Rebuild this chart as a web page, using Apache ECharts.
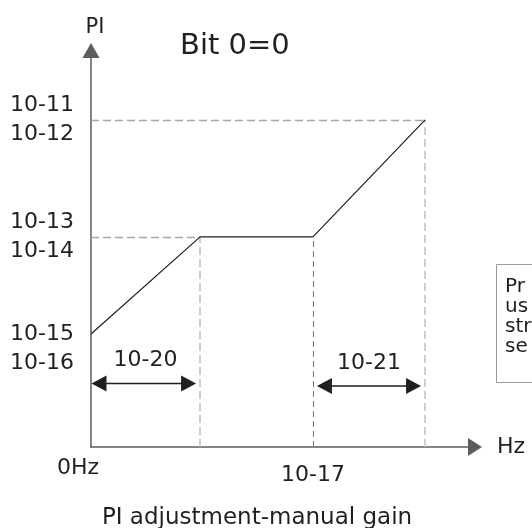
<!DOCTYPE html>
<html>
<head>
<meta charset="utf-8">
<script src="https://cdn.jsdelivr.net/npm/echarts@6/dist/echarts.min.js"></script>
<style>
  html, body { margin: 0; padding: 0; background: #ffffff; }
  #chart { width: 532px; height: 528px; }
</style>
</head>
<body>
<div id="chart"></div>
<script>
// ---- data (in relative axis units 0..100) ----
const curveX = [0, 28.4, 57.8, 87];          // 0Hz, end of 10-20, 10-17, end of 10-21
const curveY = [28.5, 53, 53, 82.5];         // 10-15/16, 10-13/14, 10-13/14, 10-11/12
const yTickValues = [28.5, 53, 82.5];
const yTickLabels = [['10-15', '10-16'], ['10-13', '10-14'], ['10-11', '10-12']];
const xTickValues = [0, 57.8];
const xTickLabels = ['0Hz', '10-17'];
const spanStart = [0, 57.8];
const spanEnd = [28.4, 87];
const spanY = [16, 15.4];
const spanLabels = ['10-20', '10-21'];
const noteLines = ['Pr', 'us', 'str', 'se'];

const FONT = 'DejaVu Sans';
const TXT = '#231f20';
const AXIS = '#5c5c5c';

const chart = echarts.init(document.getElementById('chart'), null, { renderer: 'canvas' });

const guideStyles = [
  { color: '#c4c4c4', width: 1.6, type: [8, 4] },
  { color: '#7a7a7a', width: 1, type: [6, 4] },
  { color: '#c4c4c4', width: 1.6, type: [8, 4] }
];
const guides = [];
for (let i = 1; i < curveX.length; i++) {
  guides.push([
    { coord: [curveX[i], 0], lineStyle: guideStyles[i - 1] },
    { coord: [curveX[i], curveY[i]] }
  ]);
}
[1, 3].forEach(function (i) {
  guides.push([
    { coord: [0, curveY[i]], lineStyle: { color: '#a8a8a8', width: 1.4, type: [8, 4] } },
    { coord: [curveX[i], curveY[i]] }
  ]);
});

const spanData = spanStart.map(function (s, i) { return [s, spanEnd[i], spanY[i], spanLabels[i]]; });

const option = {
  animation: false,
  title: {
    text: 'Bit 0=0',
    left: 180,
    top: 32,
    padding: 0,
    textStyle: { fontFamily: FONT, fontSize: 29, fontWeight: 'normal', color: TXT }
  },
  grid: { left: 91, right: 57, top: 50.5, bottom: 81, containLabel: false, outerBoundsMode: 'none' },
  xAxis: {
    type: 'value', min: 0, max: 100,
    name: 'Hz', nameLocation: 'end', nameGap: 22,
    nameTextStyle: { fontFamily: FONT, fontSize: 22, color: TXT, align: 'left', verticalAlign: 'middle', padding: [6, 0, 0, 0] },
    axisLine: { show: true, symbol: ['none', 'triangle'], symbolSize: [18, 14], lineStyle: { color: AXIS, width: 1.5 } },
    axisTick: { show: false },
    splitLine: { show: false },
    axisLabel: {
      show: true,
      customValues: xTickValues,
      margin: 10,
      verticalAlign: 'top',
      formatter: function (v) {
        const i = xTickValues.indexOf(v);
        return i === 0 ? '{z|' + xTickLabels[0] + '}' : '{t|' + xTickLabels[i] + '}';
      },
      rich: {
        z: { fontFamily: FONT, fontSize: 22, color: TXT, padding: [0, 26, 0, 0] },
        t: { fontFamily: FONT, fontSize: 22, color: TXT, padding: [7, 0, 0, 0] }
      }
    }
  },
  yAxis: {
    type: 'value', min: 0, max: 100,
    name: 'PI', nameLocation: 'end', nameGap: 23,
    nameTextStyle: { fontFamily: FONT, fontSize: 21, color: TXT, verticalAlign: 'middle', padding: [0, 0, 0, 8] },
    axisLine: { show: true, symbol: ['none', 'triangle'], symbolSize: [17, 15], lineStyle: { color: AXIS, width: 1.5 } },
    axisTick: { show: false },
    splitLine: { show: false },
    axisLabel: {
      show: true,
      customValues: yTickValues,
      margin: 17,
      align: 'right',
      fontFamily: FONT, fontSize: 22, color: TXT, lineHeight: 29,
      padding: [8, 0, 0, 0],
      formatter: function (v) {
        const i = yTickValues.indexOf(v);
        return (i === 0 ? '\n' : '') + yTickLabels[i][0] + '\n' + yTickLabels[i][1];
      }
    }
  },
  series: [
    {
      type: 'line',
      data: curveX.map(function (x, i) { return [x, curveY[i]]; }),
      symbol: 'none',
      lineStyle: { color: '#1e1e1e', width: 1.2 },
      z: 3,
      markLine: {
        silent: true,
        symbol: ['none', 'none'],
        label: { show: false },
        emphasis: { disabled: true },
        data: guides,
        z: 1
      }
    },
    {
      type: 'custom',
      data: spanData,
      encode: { x: [0, 1], y: 2 },
      z: 4,
      silent: true,
      renderItem: function (params, api) {
        const p0 = api.coord([api.value(0), api.value(2)]);
        const p1 = api.coord([api.value(1), api.value(2)]);
        const inset = params.dataIndex === 0 ? 0.5 : 4;
        const l = p0[0] + inset, r = p1[0] - 4, y = p0[1];
        const head = 15, hw = 8;
        return {
          type: 'group',
          children: [
            { type: 'line', shape: { x1: l + head - 1, y1: y, x2: r - head + 1, y2: y }, style: { stroke: '#1e1e1e', lineWidth: 1.6 } },
            { type: 'polygon', shape: { points: [[l, y], [l + head, y - hw], [l + head, y + hw]] }, style: { fill: '#231f20' } },
            { type: 'polygon', shape: { points: [[r, y], [r - head, y - hw], [r - head, y + hw]] }, style: { fill: '#231f20' } },
            { type: 'text', style: { text: api.value(3), x: (p0[0] + p1[0]) / 2, y: y - 23, align: 'center', verticalAlign: 'middle', font: '22px "' + FONT + '"', fill: TXT } }
          ]
        };
      }
    }
  ],
  graphic: [
    {
      type: 'text', x: 257, y: 507,
      style: { text: 'PI adjustment-manual gain', align: 'center', verticalAlign: 'top', font: '23px "' + FONT + '"', fill: TXT }
    },
    {
      type: 'rect', shape: { x: 496.5, y: 264.5, width: 60, height: 118 },
      style: { fill: 'none', stroke: '#9a9a9a', lineWidth: 1 }
    },
    {
      type: 'text', x: 505, y: 277,
      style: { text: noteLines.join('\n'), align: 'left', verticalAlign: 'top', font: '20px "' + FONT + '"', lineHeight: 20, fill: TXT }
    }
  ]
};
chart.setOption(option);
</script>
</body>
</html>
